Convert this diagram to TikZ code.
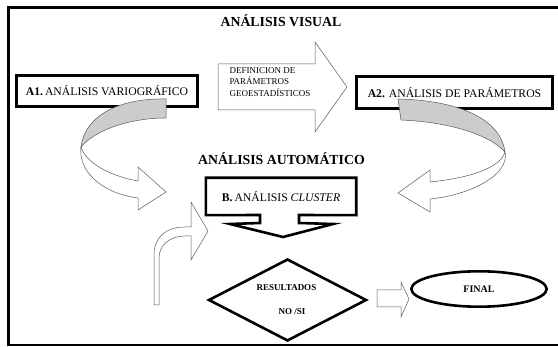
\documentclass[tikz,border=0pt]{standalone}
\usepackage{fontspec}
\setmainfont{Liberation Serif}
\usetikzlibrary{positioning,shapes.geometric}

\begin{document}
\begin{tikzpicture}[
x=1pt,y=-1pt,
heavy/.style={
  draw,
  line width=2.6pt,
  inner sep=0pt,
  line join=miter
  },
ttl/.style={
  font=\bfseries\fontsize{13.8}{15}\selectfont
  },
lbl/.style={
  font=\fontsize{11.7}{13}\selectfont
  },
blockar/.style={
  draw=black!65,
  line width=0.5pt,
  fill=white,
  line join=miter
  },
ribbon/.style={
  draw=black!65,
  line width=0.5pt,
  fill=black!20
  }
]
\useasboundingbox (0,0) rectangle (558,347);
\draw[line width=3pt] (562,7.5) -- (8.5,7.5) -- (8.5,346);
\draw[line width=1.8pt] (7,345) -- (562,345);

\node[ttl] (visual) at (281,21) {ANÁLISIS VISUAL};
\node[ttl] (auto) at (281.5,159) {ANÁLISIS AUTOMÁTICO};

\node[heavy,lbl,minimum width=181.4pt,minimum height=31.4pt] (a1) at (107,91) {\textbf{A1.}\,ANÁLISIS VARIOGRÁFICO};
\node[heavy,lbl,minimum width=196pt,minimum height=32.4pt] (a2) at (454.5,92.5) {\textbf{A2.} ANÁLISIS DE PARÁMETROS};

% flecha de definicion
\draw[blockar] (218,64) -- (315,64) -- (315,42) -- (347,87) -- (315,132) -- (315,110) -- (218,110) -- cycle;
\node[anchor=west,align=left,font=\fontsize{9}{11.5}\selectfont] (defin) at (226,82) {DEFINICION DE\\PARÁMETROS\\GEOESTADÍSTICOS};

% cluster con flecha
\node[lbl,minimum width=150pt,minimum height=37pt,inner sep=0pt] (clus) at (281,196.5) {\textbf{B.}\,ANÁLISIS \textit{CLUSTER}};
\draw[heavy] (clus.north west) -- (clus.north east) -- (clus.south east) -- (299,215) -- (299,223) -- (333,224) -- (283,237) -- (230,224) -- (260,223) -- (260,215) -- (clus.south west) -- cycle;

\node[heavy,diamond,minimum width=158pt,minimum height=82pt] (res) at (287.5,300) {};
\node[font=\bfseries\fontsize{9}{10}\selectfont] (resa) at (286.5,288) {RESULTADOS};
\node[font=\bfseries\fontsize{9}{10}\selectfont] (resb) at (292,312) {NO /SI};

\node[heavy,ellipse,minimum width=135.4pt,minimum height=35.4pt,font=\bfseries\fontsize{10}{11}\selectfont] (fin) at (479,289) {FINAL};

\draw[blockar] (377,290) -- (401,290) -- (401,282) -- (409,299) -- (401,317) -- (401,307) -- (377,307) -- cycle;

% flechas curvas
\draw[ribbon] (166,99) .. controls (120,98) and (85,115) .. (81,147) .. controls (95,130) and (130,118) .. (166,118) -- cycle;
\draw[blockar] (81,147) .. controls (78,170) and (100,193) .. (138,198) -- (138,210) -- (166,192) -- (138,167) -- (138,181) .. controls (110,176) and (86,163) .. (81,147) -- cycle;

\draw[ribbon] (398,99) .. controls (450,100) and (500,115) .. (505,152) .. controls (490,135) and (450,122) .. (401,120) -- cycle;
\draw[blockar] (505,152) .. controls (510,175) and (470,195) .. (430,199) -- (430,212) -- (398,193) -- (430,170) -- (430,182) .. controls (470,178) and (500,168) .. (505,152) -- cycle;

\draw[blockar] (154,305) -- (154,255) .. controls (154,238) and (165,227) .. (185,227) -- (191,227) -- (191,202) -- (208,231) -- (191,260) -- (191,236) -- (185,236) .. controls (170,236) and (159,245) .. (159,258) -- (159,305) -- cycle;
\end{tikzpicture}
\end{document}
